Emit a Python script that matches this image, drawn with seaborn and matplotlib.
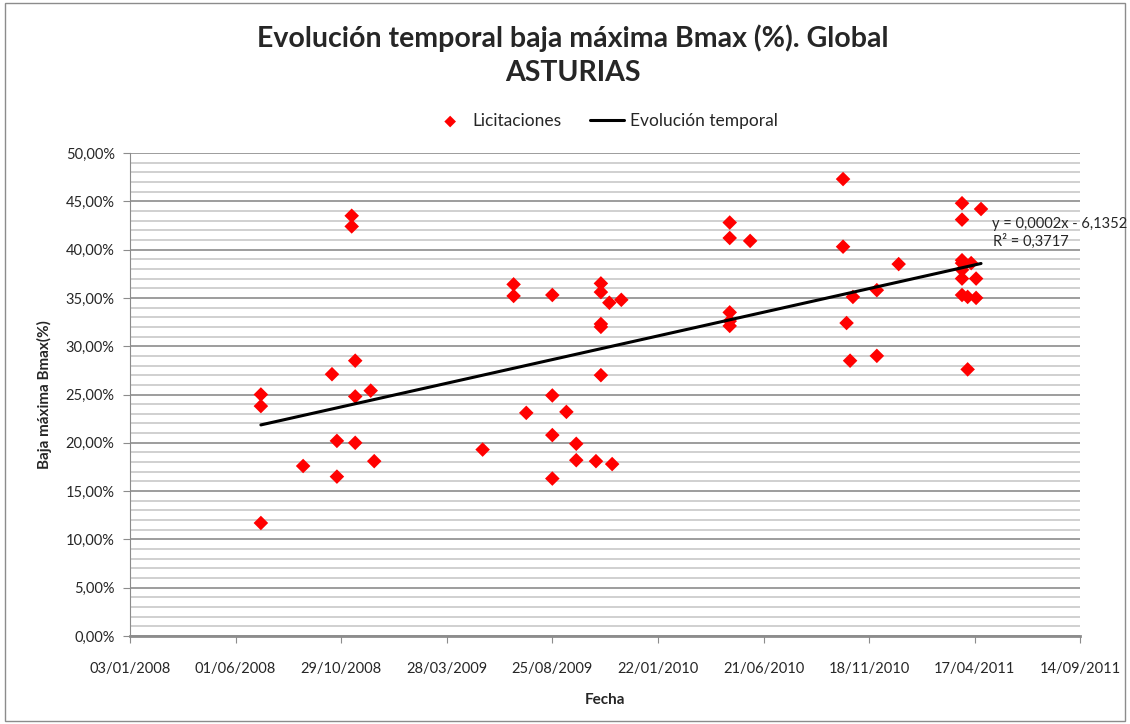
import numpy as np
import pandas as pd
import matplotlib
matplotlib.use("Agg")
import matplotlib.pyplot as plt
import matplotlib.dates as mdates
from matplotlib.ticker import MultipleLocator, FuncFormatter
import seaborn as sns

# fechas de licitación y baja máxima (%)
fechas = [
    "2008-07-07", "2008-07-07", "2008-07-07", "2008-09-05", "2008-10-16",
    "2008-10-23", "2008-10-23", "2008-11-13", "2008-11-13", "2008-11-18",
    "2008-11-18", "2008-11-18", "2008-12-10", "2008-12-15", "2009-05-18",
    "2009-07-01", "2009-07-01", "2009-07-19", "2009-08-25", "2009-08-25",
    "2009-08-25", "2009-08-25", "2009-09-14", "2009-09-28", "2009-09-28",
    "2009-10-26", "2009-11-02", "2009-11-02", "2009-11-02", "2009-11-02",
    "2009-11-02", "2009-11-14", "2009-11-18", "2009-12-01", "2010-05-04",
    "2010-05-04", "2010-05-04", "2010-05-04", "2010-05-04", "2010-06-02",
    "2010-10-12", "2010-10-12", "2010-10-17", "2010-10-22", "2010-10-26",
    "2010-11-29", "2010-11-29", "2010-12-30", "2011-03-30", "2011-03-30",
    "2011-03-30", "2011-03-30", "2011-03-30", "2011-03-30", "2011-03-30",
    "2011-04-07", "2011-04-07", "2011-04-12", "2011-04-26", "2011-04-19",
    "2011-04-19",
]
bmax = [
    25.0, 23.8, 11.7, 17.6, 27.1,
    20.2, 16.5, 43.5, 42.4, 28.5,
    24.8, 20.0, 25.4, 18.1, 19.3,
    36.4, 35.2, 23.1, 35.3, 24.9,
    20.8, 16.3, 23.2, 19.9, 18.2,
    18.1, 36.5, 35.6, 32.3, 32.0,
    27.0, 34.5, 17.8, 34.8, 42.8,
    41.2, 33.5, 32.6, 32.1, 40.9,
    47.3, 40.3, 32.4, 28.5, 35.1,
    35.8, 29.0, 38.5, 44.8, 43.1,
    38.9, 38.6, 37.9, 37.0, 35.3,
    35.1, 27.6, 38.6, 44.2, 37.0,
    35.0,
]

df = pd.DataFrame({"fecha": pd.to_datetime(fechas), "bmax": np.array(bmax) / 100})
df["x"] = mdates.date2num(df["fecha"])

sns.set_style("white")
plt.rcParams["font.family"] = ["Lato", "DejaVu Sans"]

fig = plt.figure(figsize=(11.3, 7.24), dpi=100)
ax = fig.add_axes([0.115, 0.1215, 0.841, 0.6672])

# lineas de division
ax.yaxis.set_major_locator(MultipleLocator(0.05))
ax.yaxis.set_minor_locator(MultipleLocator(0.01))
ax.grid(which="minor", axis="y", color="#c8c8c8", lw=1.2)
ax.grid(which="major", axis="y", color="#8c8c8c", lw=1.2)
ax.set_axisbelow(True)

sns.scatterplot(data=df, x="x", y="bmax", marker="D", color="#ff0000", s=55,
                edgecolor="none", label="Licitaciones", ax=ax, zorder=3)
sns.regplot(data=df, x="x", y="bmax", scatter=False, ci=None, truncate=True,
            line_kws={"color": "black", "lw": 2.2, "zorder": 4},
            label="Evolución temporal", ax=ax)

start = mdates.date2num(pd.Timestamp("2008-01-03"))
ax.set_xlim(start, start + 1350)
ax.set_ylim(0, 0.5)
ax.set_xticks([start + 150 * i for i in range(10)])
ax.xaxis.set_major_formatter(FuncFormatter(lambda v, p: mdates.num2date(v).strftime("%d/%m/%Y")))
ax.yaxis.set_major_formatter(FuncFormatter(lambda v, p: f"{v*100:.2f}%".replace(".", ",")))

for s in ["top", "right"]:
    ax.spines[s].set_visible(False)
ax.spines["left"].set_color("#8c8c8c")
ax.spines["bottom"].set_color("#8c8c8c")
ax.spines["bottom"].set_linewidth(2)
ax.tick_params(axis="both", which="major", length=5, color="#8c8c8c", labelsize=10.5,
               direction="out", bottom=True, left=True, pad=6)
ax.tick_params(axis="x", pad=14)
ax.tick_params(which="minor", length=0)

ax.set_xlabel("Fecha", fontsize=11, fontweight="bold", labelpad=12)
ax.set_ylabel("Baja máxima Bmax(%)", fontsize=11, fontweight="bold", labelpad=10)

fig.text(0.507, 0.947, "Evolución temporal baja máxima Bmax (%). Global",
         ha="center", va="center", fontsize=20.5, fontweight="bold")
fig.text(0.507, 0.899, "ASTURIAS", ha="center", va="center", fontsize=20.5, fontweight="bold")

ax.legend(loc="center", bbox_to_anchor=(0.5, 1.066), ncol=2, frameon=False,
          fontsize=12.5, handlelength=2.0, handletextpad=0.3, columnspacing=1.6,
          markerscale=0.8)

fig.text(0.9975, 0.690, "y = 0,0002x - 6,1352", ha="right", va="center", fontsize=10.5)
fig.text(0.9455, 0.666, "R² = 0,3717", ha="right", va="center", fontsize=10.5)

fig.patches.append(plt.Rectangle((0.004, 0.004), 0.992, 0.992, transform=fig.transFigure,
                                 fill=False, edgecolor="#8c8c8c", lw=1))

plt.savefig("out.png", dpi=100)
